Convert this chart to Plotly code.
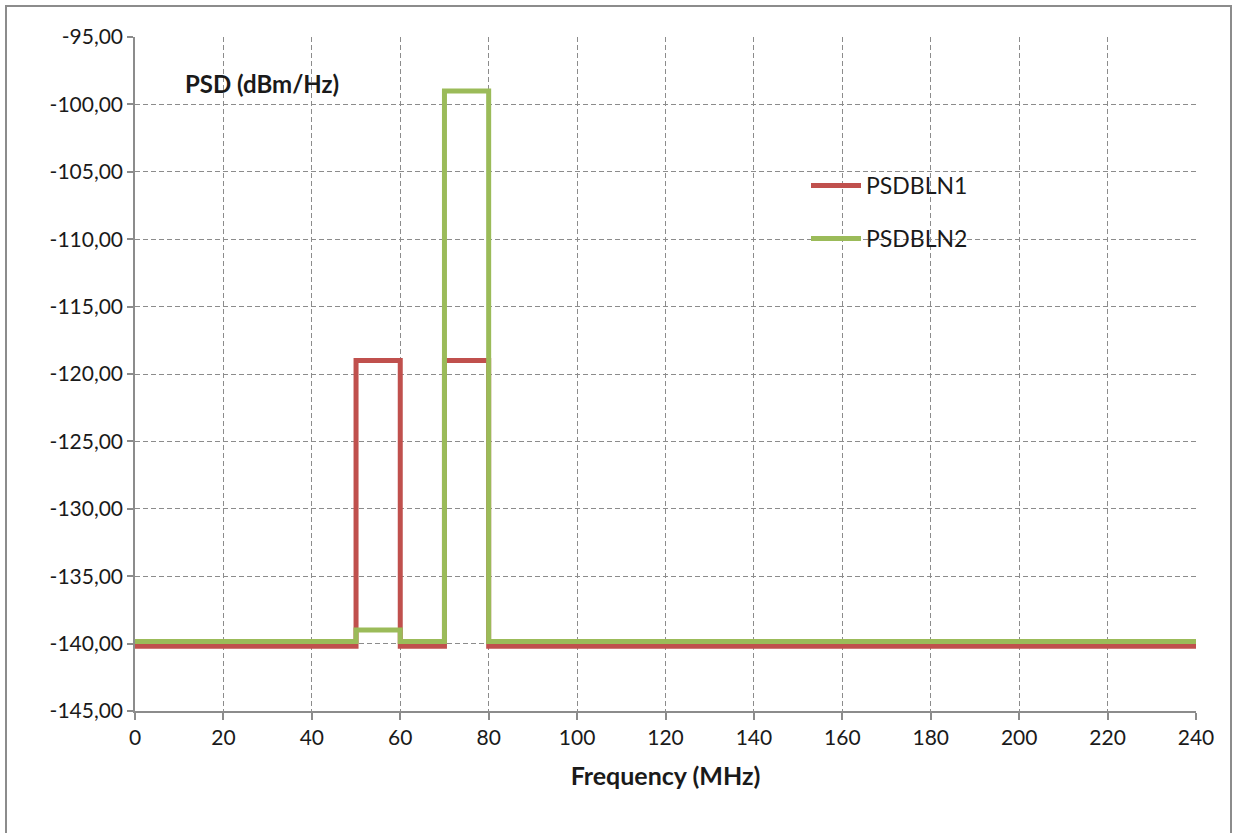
import plotly.graph_objects as go

# Step breakpoints (MHz) and levels (dBm/Hz)
freq = [0, 50, 60, 70, 80, 240]
psdbln1 = [-140.2, -119, -140.2, -119, -140.2, -140.2]
psdbln2 = [-139.85, -139, -139.85, -99, -139.85, -139.85]

x_ticks = list(range(0, 241, 20))
y_ticks = [-145, -140, -135, -130, -125, -120, -115, -110, -105, -100, -95]
y_tick_labels = ["-145,00", "-140,00", "-135,00", "-130,00", "-125,00", "-120,00",
                 "-115,00", "-110,00", "-105,00", "-100,00", "-95,00"]

RED = "#C0504D"
GREEN = "#9BBB59"
GRID = "#8C8C8C"
FONT = "Lato, Calibri, 'DejaVu Sans', sans-serif"

fig = go.Figure()
fig.add_trace(go.Scatter(x=freq, y=psdbln1, mode="lines", name="PSDBLN1", showlegend=True,
                         line=dict(color=RED, width=5, shape="hv"), legend="legend"))
fig.add_trace(go.Scatter(x=freq, y=psdbln2, mode="lines", name="PSDBLN2", showlegend=True,
                         line=dict(color=GREEN, width=5, shape="hv"), legend="legend2"))

W, H = 1233, 833
L, R, T, B = 135, 37, 37, 122
pw, ph = W - L - R, H - T - B

def px(x):
    return (x - L) / pw

def py(y):
    return (H - B - y) / ph

DASH = "5px,3px"

fig.update_layout(
    width=W, height=H,
    margin=dict(l=L, r=R, t=T, b=B, autoexpand=False),
    paper_bgcolor="white", plot_bgcolor="white",
    font=dict(family=FONT, size=21, color="#1a1a1a"),
    showlegend=True,
    legend=dict(x=px(806), y=py(164), xanchor="left", yanchor="top",
                bgcolor="rgba(0,0,0,0)", font=dict(size=23), itemwidth=50),
    legend2=dict(x=px(806), y=py(217), xanchor="left", yanchor="top",
                 bgcolor="rgba(0,0,0,0)", font=dict(size=23), itemwidth=50),
    xaxis=dict(range=[0, 240], tickvals=x_ticks, ticktext=[str(v) for v in x_ticks],
               showgrid=True, gridcolor=GRID, griddash=DASH, gridwidth=1.3,
               showline=True, linecolor=GRID, linewidth=1.5,
               ticks="outside", ticklen=7, tickcolor=GRID, tickwidth=1.5,
               zeroline=False,
               title=dict(text="<b>Frequency (MHz)</b>", font=dict(size=25), standoff=20)),
    yaxis=dict(range=[-145, -95], tickvals=y_ticks, ticktext=y_tick_labels,
               showgrid=True, gridcolor=GRID, griddash=DASH, gridwidth=1.3,
               showline=True, linecolor=GRID, linewidth=1.5,
               ticks="outside", ticklen=6, tickcolor=GRID, tickwidth=1.5,
               zeroline=False),
    annotations=[dict(text="<b>PSD (dBm/Hz)</b>", x=px(183), y=py(83), xref="paper", yref="paper",
                      xanchor="left", yanchor="middle", showarrow=False, font=dict(size=24))],
    shapes=[dict(type="rect", xref="paper", yref="paper",
                 x0=px(6), x1=px(1231), y0=py(840), y1=py(6),
                 line=dict(color="#8C8C8C", width=2), layer="below")],
)

fig.write_html(
    "out.html",
    config={"displayModeBar": False},
    post_script="document.documentElement.style.margin='0';document.body.style.margin='0';"
                "document.body.style.overflow='hidden';document.documentElement.style.overflow='hidden';",
)
